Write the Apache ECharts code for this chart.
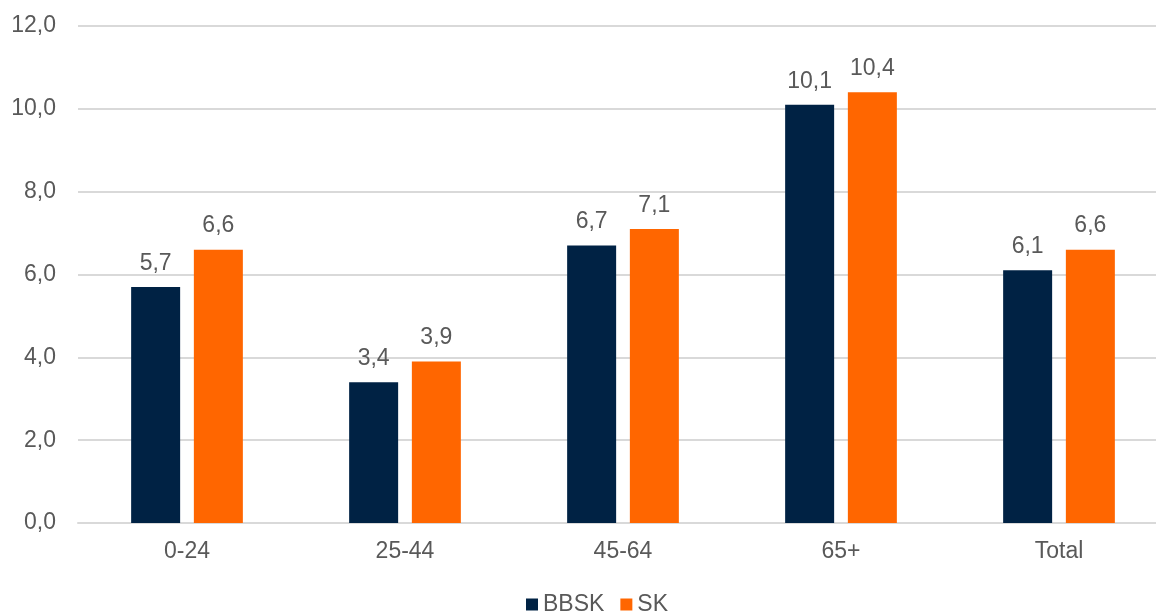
<!DOCTYPE html>
<html>
<head>
<meta charset="utf-8">
<style>
  html, body { margin: 0; padding: 0; background: #fff; overflow: hidden; }
  #chart { width: 1168px; height: 612px; }
</style>
<script src="https://cdn.jsdelivr.net/npm/echarts@6/dist/echarts.min.js"></script>
</head>
<body>
<div id="chart"></div>
<script>
// Age groups and the two compared regions
const categories = ['0-24', '25-44', '45-64', '65+', 'Total'];
const bbskValues = [5.7, 3.4, 6.7, 10.1, 6.1];
const skValues = [6.6, 3.9, 7.1, 10.4, 6.6];
const seriesNames = ['BBSK', 'SK'];

const textColor = '#595959';
const fontFamily = 'Liberation Sans, Arial, sans-serif';
const fontSize = 23;
const fmt = v => v.toFixed(1).replace('.', ',');

const chart = echarts.init(document.getElementById('chart'), null, { renderer: 'canvas' });

const labelStyle = {
  show: true,
  position: 'top',
  distance: 12,
  color: textColor,
  fontSize: fontSize,
  fontFamily: fontFamily,
  formatter: p => fmt(p.value)
};

chart.setOption({
  animation: false,
  grid: { left: 78, top: 26, right: 0, height: 497, containLabel: false },
  legend: {
    data: seriesNames,
    top: 588,
    left: 521,
    itemWidth: 12,
    itemHeight: 12,
    itemGap: 16,
    icon: 'rect',
    textStyle: { color: textColor, fontSize: fontSize, fontFamily: fontFamily }
  },
  xAxis: {
    type: 'category',
    data: categories,
    axisLine: { show: true, lineStyle: { color: '#d9d9d9', width: 2 } },
    axisTick: { show: false },
    axisLabel: { color: textColor, fontSize: fontSize, fontFamily: fontFamily, margin: 17 }
  },
  yAxis: {
    type: 'value',
    min: 0,
    max: 12,
    interval: 2,
    axisLine: { show: false },
    axisTick: { show: false },
    splitLine: { lineStyle: { color: '#d9d9d9', width: 2 } },
    axisLabel: { color: textColor, fontSize: fontSize, fontFamily: fontFamily, margin: 22, formatter: v => fmt(v) }
  },
  series: [
    {
      name: seriesNames[0],
      type: 'bar',
      data: bbskValues,
      barWidth: 49,
      barGap: '28%',
      itemStyle: { color: '#002244' },
      label: labelStyle
    },
    {
      name: seriesNames[1],
      type: 'bar',
      data: skValues,
      barWidth: 49,
      barGap: '28%',
      itemStyle: { color: '#ff6600' },
      label: labelStyle
    }
  ]
});
</script>
</body>
</html>
